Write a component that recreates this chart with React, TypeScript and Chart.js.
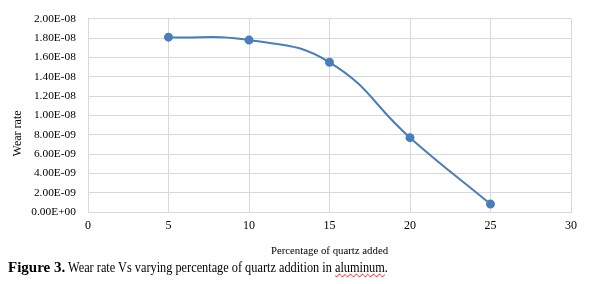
import React, { useEffect, useRef } from "react";
import { Chart, registerables } from "chart.js";

Chart.register(...registerables);

const quartzPercent = [5, 10, 15, 20, 25];
const wearRate = [1.81e-8, 1.78e-8, 1.55e-8, 7.7e-9, 8.2e-10];
const xTitle = "Percentage of quartz added";
const yTitle = "Wear rate";

function fmtExp(v: number): string {
  const s = Number(v).toExponential(2);
  const [m, e] = s.split("e");
  const sign = e[0] === "-" ? "-" : "+";
  const digits = e.replace(/[+-]/, "").padStart(2, "0");
  return `${m}E${sign}${digits}`;
}

const FAMILY = "'Liberation Serif', 'Times New Roman', serif";

const yTitlePlugin = {
  id: "yTitleDraw",
  afterDraw(chart: any) {
    const { ctx, chartArea } = chart;
    ctx.save();
    ctx.fillStyle = "#000";
    ctx.font = `12px ${FAMILY}`;
    ctx.textAlign = "center";
    ctx.textBaseline = "middle";
    ctx.translate(18, chartArea.top + (chartArea.bottom - chartArea.top) / 2 + 18);
    ctx.rotate(-Math.PI / 2);
    ctx.fillText(yTitle, 0, 0);
    ctx.restore();
  },
};

export default function App() {
  const ref = useRef<HTMLCanvasElement | null>(null);
  useEffect(() => {
    if (!ref.current) return;
    const chart = new Chart(ref.current, {
      type: "line",
      data: {
        datasets: [
          {
            data: quartzPercent.map((x, i) => ({ x, y: wearRate[i] })),
            borderColor: "#4a7ebb",
            backgroundColor: "#4a7ebb",
            borderWidth: 2,
            pointRadius: 3.5,
            pointHoverRadius: 3.5,
            tension: 0.45,
            fill: false,
          },
        ],
      },
      plugins: [yTitlePlugin],
      options: {
        animation: false,
        responsive: false,
        maintainAspectRatio: false,
        layout: { padding: { top: 18, right: 39, left: 10, bottom: 0 } },
        plugins: { legend: { display: false }, tooltip: { enabled: false } },
        scales: {
          x: {
            type: "linear",
            min: 0,
            max: 30,
            afterFit: (s: any) => {
              s.height = 46;
            },
            ticks: { stepSize: 5, color: "#000", font: { family: FAMILY, size: 12 }, padding: 7 },
            grid: { color: "#d9d9d9", drawTicks: false },
            border: { color: "#d9d9d9" },
            title: {
              display: true,
              text: xTitle,
              color: "#000",
              font: { family: FAMILY, size: 10.8 },
              padding: { top: 0, bottom: 0 },
            },
          },
          y: {
            min: 0,
            max: 2e-8,
            afterFit: (s: any) => {
              s.width = 78;
            },
            ticks: {
              stepSize: 2e-9,
              color: "#000",
              font: { family: FAMILY, size: 11.4 },
              padding: 12,
              callback: (v: any) => fmtExp(Number(v)),
            },
            grid: { color: "#d9d9d9", drawTicks: false },
            border: { color: "#d9d9d9" },
            title: { display: false, text: yTitle },
          },
        },
      },
    });
    return () => chart.destroy();
  }, []);
  return (
    <div style={{ position: "absolute", left: 0, top: 0, width: 610, height: 284, background: "#fff" }}>
      <canvas
        ref={ref}
        width={610}
        height={258}
        style={{ position: "absolute", left: 0, top: 0, width: 610, height: 258 }}
      />
      <div
        style={{
          position: "absolute",
          left: 8,
          top: 257,
          fontFamily: FAMILY,
          fontSize: 15,
          lineHeight: "20px",
          whiteSpace: "nowrap",
          color: "#000",
        }}
      >
        <b>Figure 3.</b>
        <span style={{ display: "inline-block", transform: "scaleX(0.82)", transformOrigin: "left center" }}>
          &nbsp;Wear rate Vs varying percentage of quartz addition in{" "}
          <span style={{ textDecoration: "underline wavy red", textDecorationThickness: 1 }}>aluminum</span>.
        </span>
      </div>
    </div>
  );
}
